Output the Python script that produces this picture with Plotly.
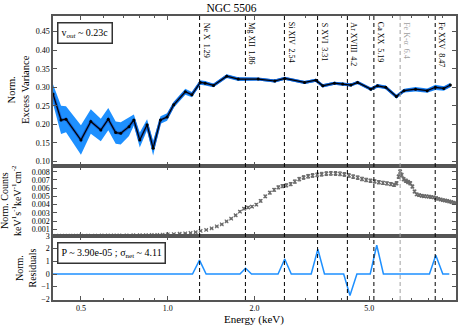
import math
import plotly.graph_objects as go

# ---------------- data ----------------
# line identifications (observed energies, keV)
line_names = ["Ne X", "Mg XII", "Si XIV", "S XVI", "Ar XVIII", "Ca XX", "Fe K-\u03b1", "Fe XXV"]
line_energies = [1.29, 1.86, 2.54, 3.31, 4.2, 5.19, 6.4, 8.47]
line_labels = ["1.29", "1.86", "2.54", "3.31", "4.2", "5.19", "6.4", "8.47"]

# normalised excess variance spectrum
var_E = [0.40, 0.4266, 0.4438, 0.50, 0.541, 0.586, 0.622, 0.660, 0.687, 0.734,
         0.763, 0.800, 0.848, 0.890, 0.944, 0.995, 1.049, 1.151, 1.213, 1.297,
         1.349, 1.441, 1.602, 1.757, 2.06, 2.352, 2.546, 2.984, 3.264, 3.452,
         3.787, 4.045, 4.320, 4.556, 5.064, 5.342, 5.705, 6.211, 6.602, 7.239,
         7.943, 8.484, 9.07, 9.56]
var_V = [0.282, 0.212, 0.214, 0.158, 0.208, 0.185, 0.214, 0.178, 0.176, 0.194,
         0.212, 0.158, 0.199, 0.136, 0.212, 0.220, 0.253, 0.288, 0.280, 0.313,
         0.311, 0.305, 0.330, 0.322, 0.322, 0.317, 0.324, 0.313, 0.319, 0.304,
         0.311, 0.309, 0.306, 0.313, 0.295, 0.304, 0.300, 0.275, 0.291, 0.295,
         0.291, 0.300, 0.297, 0.306]
var_err = [0.026, 0.038, 0.035, 0.040, 0.033, 0.030, 0.030, 0.030, 0.030, 0.025,
           0.015, 0.020, 0.015, 0.020, 0.010, 0.010, 0.008, 0.008, 0.007, 0.006,
           0.006, 0.005, 0.005, 0.005, 0.004, 0.004, 0.004, 0.004, 0.004, 0.004,
           0.004, 0.004, 0.004, 0.004, 0.004, 0.005, 0.005, 0.005, 0.005, 0.006,
           0.006, 0.007, 0.006, 0.006]

# normalised count spectrum
spec_E = [0.40, 0.42, 0.44, 0.46, 0.48, 0.50, 0.53, 0.56, 0.59, 0.62, 0.65, 0.68,
          0.72, 0.76, 0.80, 0.84, 0.88, 0.92, 0.96, 1.00, 1.05, 1.10, 1.15, 1.20,
          1.25, 1.30, 1.36, 1.42, 1.48, 1.54, 1.60, 1.66, 1.72, 1.78, 1.84, 1.90,
          1.96, 2.03, 2.10, 2.18, 2.26, 2.34, 2.42, 2.50, 2.58, 2.67, 2.76, 2.86,
          2.96, 3.07, 3.18, 3.30, 3.42, 3.55, 3.68, 3.82, 3.96, 4.10, 4.25, 4.40,
          4.56, 4.72, 4.88, 5.05, 5.22, 5.40, 5.58, 5.76, 5.94, 6.10, 6.22, 6.32,
          6.40, 6.48, 6.58, 6.70, 6.82, 6.94, 7.06, 7.18, 7.30, 7.45, 7.60, 7.75,
          7.90, 8.05, 8.20, 8.36, 8.52, 8.68, 8.84, 9.00, 9.16, 9.32, 9.48, 9.64,
          9.80, 9.95]
spec_V = [0.00020, 0.00021, 0.00021, 0.00022, 0.00022, 0.00022, 0.00023, 0.00023,
          0.00024, 0.00024, 0.00025, 0.00025, 0.00026, 0.00027, 0.00028, 0.00029,
          0.00030, 0.00032, 0.00034, 0.00037, 0.00040, 0.00045, 0.00050, 0.00056,
          0.00064, 0.00080, 0.00092, 0.00110, 0.00135, 0.00160, 0.00195, 0.00230,
          0.00270, 0.00315, 0.00350, 0.00365, 0.00375, 0.00400, 0.00445, 0.00500,
          0.00545, 0.00580, 0.00610, 0.00625, 0.00635, 0.00650, 0.00680, 0.00710,
          0.00730, 0.00745, 0.00755, 0.00762, 0.00770, 0.00777, 0.00780, 0.00779,
          0.00775, 0.00767, 0.00755, 0.00740, 0.00728, 0.00712, 0.00700, 0.00690,
          0.00682, 0.00672, 0.00665, 0.00658, 0.00650, 0.00640, 0.00660, 0.00740,
          0.00800, 0.00760, 0.00710, 0.00690, 0.00675, 0.00660, 0.00620, 0.00560,
          0.00525, 0.00515, 0.00508, 0.00502, 0.00500, 0.00498, 0.00492, 0.00488,
          0.00480, 0.00470, 0.00462, 0.00455, 0.00450, 0.00445, 0.00438, 0.00432,
          0.00425, 0.00420]

# normalised residuals
res_E = [0.40, 1.219, 1.289, 1.359, 1.781, 1.862, 1.953, 2.414, 2.546, 2.683,
         3.146, 3.317, 3.498, 4.077, 4.287, 4.532, 5.04, 5.31, 5.60, 8.09, 8.51,
         9.00, 9.48]
res_V = [0, 0, 1.1, 0, 0, 0.45, 0, 0, 1.18, 0, 0, 1.95, 0, 0, -1.7, 0, 0, 2.27,
         0, 0, 1.48, 0, 0]

x_ticks = [0.5, 1.0, 2.0, 5.0]
x_tick_text = ["0.5", "1.0", "2.0", "5.0"]
x_minor = [0.4, 0.6, 0.7, 0.8, 0.9, 3, 4, 6, 7, 8, 9]

# ---------------- figure ----------------
SERIF = "Liberation Serif, Times New Roman, serif"
BLUE = "#1E90FF"
AXC = "#555555"

fig = go.Figure()

upper = [v + e for v, e in zip(var_V, var_err)]
lower = [v - e for v, e in zip(var_V, var_err)]
fig.add_trace(go.Scatter(x=var_E, y=upper, mode="lines", line=dict(width=0, color=BLUE),
                         showlegend=False, hoverinfo="skip", xaxis="x", yaxis="y"))
fig.add_trace(go.Scatter(x=var_E, y=lower, mode="lines", line=dict(width=0, color=BLUE),
                         fill="tonexty", fillcolor=BLUE, showlegend=False,
                         hoverinfo="skip", xaxis="x", yaxis="y"))
fig.add_trace(go.Scatter(x=var_E, y=var_V, mode="lines", line=dict(width=3, color="#1560d0"),
                         showlegend=False, xaxis="x", yaxis="y"))
fig.add_trace(go.Scatter(x=var_E, y=var_V, mode="lines+markers",
                         line=dict(width=1.2, color="black"),
                         marker=dict(size=3, color="black"),
                         showlegend=False, xaxis="x", yaxis="y"))

fig.add_trace(go.Scatter(x=spec_E, y=spec_V, mode="markers",
                         marker=dict(symbol="x-thin-open", size=3.5, color="#6a6a6a",
                                     line=dict(width=1.2, color="#6a6a6a")),
                         error_y=dict(type="percent", value=3, thickness=1, width=1.5,
                                      color="#6a6a6a"),
                         showlegend=False, xaxis="x2", yaxis="y2"))

fig.add_trace(go.Scatter(x=res_E, y=res_V, mode="lines", line=dict(width=1.5, color=BLUE),
                         showlegend=False, xaxis="x3", yaxis="y3"))

# vertical line markers + labels
for name, E, lab in zip(line_names, line_energies, line_labels):
    col = "#a0a0a0" if "K-" in name else "black"
    fig.add_shape(type="line", xref="x3", yref="paper", x0=E, x1=E,
                  y0=0, y1=1, line=dict(color=col, width=1, dash="4px,3px"), layer="above")
    fig.add_annotation(xref="x3", yref="paper", x=math.log10(E), y=0.985,
                       text=f"{name}  {lab}", textangle=90, showarrow=False,
                       xanchor="left", yanchor="top", xshift=0,
                       font=dict(family=SERIF, size=8, color=col))

axis_common = dict(type="log", range=[math.log10(0.4), 1.0], showgrid=False,
                   zeroline=False, showline=True, linecolor=AXC, linewidth=1.5, mirror="allticks",
                   ticks="inside", ticklen=4, tickcolor=AXC, tickvals=x_ticks,
                   ticktext=x_tick_text,
                   minor=dict(tickvals=x_minor, ticks="inside", ticklen=2, tickcolor=AXC),
                   tickfont=dict(family=SERIF, size=8, color="black"))
yax_common = dict(showgrid=False, zeroline=False, showline=True, linecolor=AXC, linewidth=1.5,
                  mirror="allticks", ticks="inside", ticklen=4, tickcolor=AXC,
                  tickfont=dict(family=SERIF, size=8, color="black"))

fig.update_layout(
    width=463, height=331,
    margin=dict(l=53, r=5, t=16, b=31),
    paper_bgcolor="white", plot_bgcolor="white",
    xaxis=dict(axis_common, anchor="y", matches="x3", showticklabels=False),
    xaxis2=dict(axis_common, anchor="y2", matches="x3", showticklabels=False),
    xaxis3=dict(axis_common, anchor="y3"),
    yaxis=dict(yax_common, domain=[0.4718, 1.0], range=[0.088, 0.492],
               tickvals=[0.10, 0.15, 0.20, 0.25, 0.30, 0.35, 0.40, 0.45], tickformat=".2f"),
    yaxis2=dict(yax_common, domain=[0.2254, 0.4718], range=[0.00018, 0.0087],
                tickvals=[0.001, 0.002, 0.003, 0.004, 0.005, 0.006, 0.007, 0.008],
                tickformat=".3f"),
    yaxis3=dict(yax_common, domain=[0.0, 0.2254], range=[-2.05, 3.0],
                tickvals=[-2, -1, 0, 1, 2, 3]),
    title=dict(text="NGC 5506", x=0.5, xanchor="center", y=1 - 8 / 331, yanchor="middle",
               font=dict(family=SERIF, size=11.5, color="black")),
    showlegend=False,
)

# axis titles
fig.add_annotation(xref="paper", yref="paper", x=-0.084, y=0.74, text="Norm.<br>Excess Variance",
                   textangle=-90, showarrow=False, xanchor="center", yanchor="middle",
                   font=dict(family=SERIF, size=10.5, color="black"))
fig.add_annotation(xref="paper", yref="paper", x=-0.106, y=0.35,
                   text="Norm. Counts<br>keV<sup>1</sup>s<sup>-1</sup>keV<sup>-1</sup>cm<sup>-2</sup>",
                   textangle=-90, showarrow=False, xanchor="center", yanchor="middle",
                   font=dict(family=SERIF, size=10, color="black"))
fig.add_annotation(xref="paper", yref="paper", x=-0.068, y=0.113, text="Norm.<br>Residuals",
                   textangle=-90, showarrow=False, xanchor="center", yanchor="middle",
                   font=dict(family=SERIF, size=10, color="black"))
fig.add_annotation(xref="paper", yref="paper", x=0.498, y=-0.0704, text="Energy (keV)",
                   showarrow=False, xanchor="center", yanchor="middle",
                   font=dict(family=SERIF, size=11, color="black"))

# text boxes
fig.add_annotation(xref="paper", yref="paper", x=0.0106, y=0.98,
                   text="v<sub><i>out</i></sub> ~ 0.23c", showarrow=False,
                   xanchor="left", yanchor="top", bgcolor="white", bordercolor="#333333",
                   borderwidth=1.5, borderpad=3,
                   font=dict(family=SERIF, size=10, color="black"))
fig.add_annotation(xref="paper", yref="paper", x=0.0106, y=0.2053,
                   text="P ~ 3.90e-05 ; \u03c3<sub>net</sub> ~ 4.11", showarrow=False,
                   xanchor="left", yanchor="top", bgcolor="white", bordercolor="#333333",
                   borderwidth=1.5, borderpad=3,
                   font=dict(family=SERIF, size=10, color="black"))

fig.write_html("out.html", config={"displayModeBar": False},
               post_script="document.body.style.margin='0';")
